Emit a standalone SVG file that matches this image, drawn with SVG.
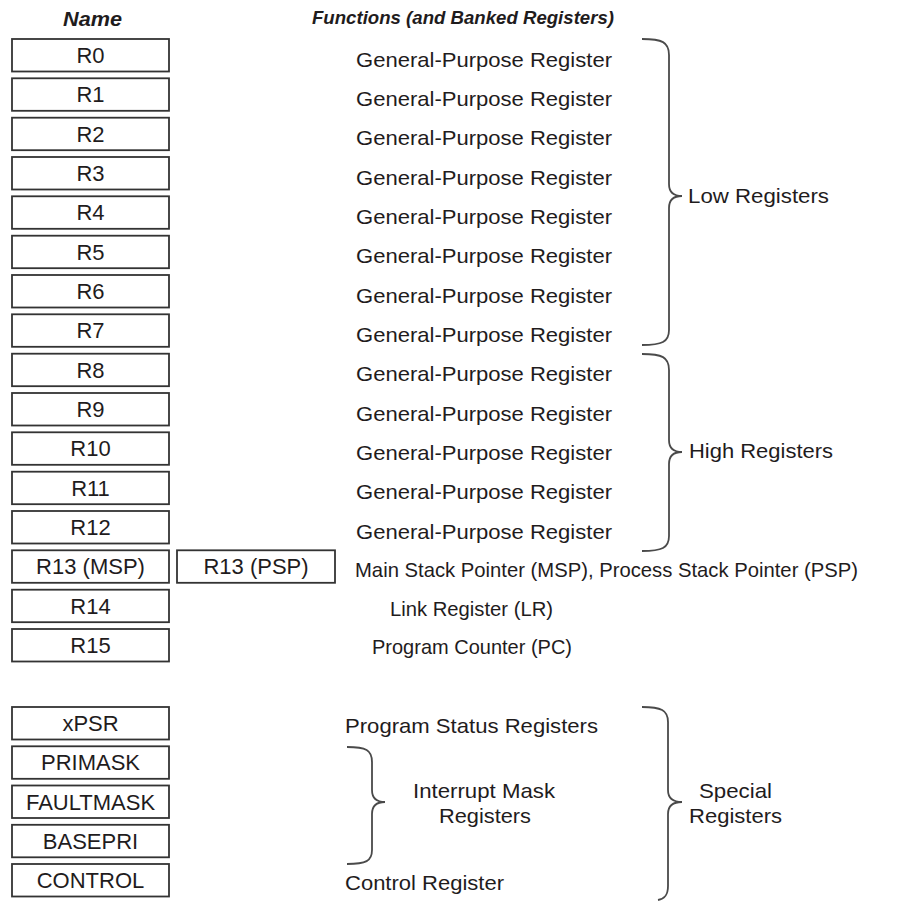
<svg xmlns="http://www.w3.org/2000/svg" width="909" height="901" viewBox="0 0 909 901">
<style>
.bx{fill:#fff;stroke:#333;stroke-width:1.8}
.bl{font-family:"Liberation Sans",Arial,sans-serif;font-size:22px;fill:#1f1c1d;text-anchor:middle}
.ft{font-family:"Liberation Sans",Arial,sans-serif;font-size:21px;fill:#1f1c1d}
.gp{font-family:"Liberation Sans",Arial,sans-serif;font-size:21px;fill:#1f1c1d;text-anchor:middle}
.hd{font-family:"Liberation Sans",Arial,sans-serif;font-weight:bold;font-style:italic;font-size:19px;fill:#1f1c1d;text-anchor:middle}
.br{fill:none;stroke:#4a4a4a;stroke-width:1.8}
</style>
<rect width="909" height="901" fill="#fff"/>
<text class="hd" x="92.5" y="26" style="font-size:20px" textLength="59" lengthAdjust="spacingAndGlyphs">Name</text>
<text class="hd" x="463" y="24" textLength="302" lengthAdjust="spacingAndGlyphs">Functions (and Banked Registers)</text>

<g id="R0"><rect class="bx" x="12" y="39" width="157" height="32.5"/><text class="bl" x="90.5" y="63">R0</text><text class="gp" x="484" y="66.5" textLength="256" lengthAdjust="spacingAndGlyphs">General-Purpose Register</text></g>
<g id="R1"><rect class="bx" x="12" y="78.3" width="157" height="32.5"/><text class="bl" x="90.5" y="102.3">R1</text><text class="gp" x="484" y="105.8" textLength="256" lengthAdjust="spacingAndGlyphs">General-Purpose Register</text></g>
<g id="R2"><rect class="bx" x="12" y="117.7" width="157" height="32.5"/><text class="bl" x="90.5" y="141.7">R2</text><text class="gp" x="484" y="145.2" textLength="256" lengthAdjust="spacingAndGlyphs">General-Purpose Register</text></g>
<g id="R3"><rect class="bx" x="12" y="157" width="157" height="32.5"/><text class="bl" x="90.5" y="181">R3</text><text class="gp" x="484" y="184.5" textLength="256" lengthAdjust="spacingAndGlyphs">General-Purpose Register</text></g>
<g id="R4"><rect class="bx" x="12" y="196.3" width="157" height="32.5"/><text class="bl" x="90.5" y="220.3">R4</text><text class="gp" x="484" y="223.8" textLength="256" lengthAdjust="spacingAndGlyphs">General-Purpose Register</text></g>
<g id="R5"><rect class="bx" x="12" y="235.7" width="157" height="32.5"/><text class="bl" x="90.5" y="259.7">R5</text><text class="gp" x="484" y="263.2" textLength="256" lengthAdjust="spacingAndGlyphs">General-Purpose Register</text></g>
<g id="R6"><rect class="bx" x="12" y="275" width="157" height="32.5"/><text class="bl" x="90.5" y="299">R6</text><text class="gp" x="484" y="302.5" textLength="256" lengthAdjust="spacingAndGlyphs">General-Purpose Register</text></g>
<g id="R7"><rect class="bx" x="12" y="314.3" width="157" height="32.5"/><text class="bl" x="90.5" y="338.3">R7</text><text class="gp" x="484" y="341.8" textLength="256" lengthAdjust="spacingAndGlyphs">General-Purpose Register</text></g>
<g id="R8"><rect class="bx" x="12" y="353.7" width="157" height="32.5"/><text class="bl" x="90.5" y="377.7">R8</text><text class="gp" x="484" y="381.2" textLength="256" lengthAdjust="spacingAndGlyphs">General-Purpose Register</text></g>
<g id="R9"><rect class="bx" x="12" y="393" width="157" height="32.5"/><text class="bl" x="90.5" y="417">R9</text><text class="gp" x="484" y="420.5" textLength="256" lengthAdjust="spacingAndGlyphs">General-Purpose Register</text></g>
<g id="R10"><rect class="bx" x="12" y="432.3" width="157" height="32.5"/><text class="bl" x="90.5" y="456.3">R10</text><text class="gp" x="484" y="459.8" textLength="256" lengthAdjust="spacingAndGlyphs">General-Purpose Register</text></g>
<g id="R11"><rect class="bx" x="12" y="471.7" width="157" height="32.5"/><text class="bl" x="90.5" y="495.7">R11</text><text class="gp" x="484" y="499.2" textLength="256" lengthAdjust="spacingAndGlyphs">General-Purpose Register</text></g>
<g id="R12"><rect class="bx" x="12" y="511" width="157" height="32.5"/><text class="bl" x="90.5" y="535">R12</text><text class="gp" x="484" y="538.5" textLength="256" lengthAdjust="spacingAndGlyphs">General-Purpose Register</text></g>
<g id="R13"><rect class="bx" x="12" y="550.3" width="157" height="32.5"/><text class="bl" x="90.5" y="574.3">R13 (MSP)</text>
<rect class="bx" x="177" y="550.3" width="158" height="32.5"/><text class="bl" x="256" y="574.3">R13 (PSP)</text>
<text class="ft" x="355" y="576.5" textLength="503" lengthAdjust="spacingAndGlyphs">Main Stack Pointer (MSP), Process Stack Pointer (PSP)</text></g>
<g id="R14"><rect class="bx" x="12" y="589.7" width="157" height="32.5"/><text class="bl" x="90.5" y="613.7">R14</text><text class="ft" x="390" y="615.5" textLength="163" lengthAdjust="spacingAndGlyphs">Link Register (LR)</text></g>
<g id="R15"><rect class="bx" x="12" y="629" width="157" height="32.5"/><text class="bl" x="90.5" y="653">R15</text><text class="ft" x="372" y="654" textLength="200" lengthAdjust="spacingAndGlyphs">Program Counter (PC)</text></g>

<g id="xPSR"><rect class="bx" x="12" y="707" width="157" height="32.5"/><text class="bl" x="90.5" y="731">xPSR</text></g>
<g id="PRIMASK"><rect class="bx" x="12" y="746.3" width="157" height="32.5"/><text class="bl" x="90.5" y="770.3">PRIMASK</text></g>
<g id="FAULTMASK"><rect class="bx" x="12" y="785.5" width="157" height="32.5"/><text class="bl" x="90.5" y="809.5">FAULTMASK</text></g>
<g id="BASEPRI"><rect class="bx" x="12" y="824.8" width="157" height="32.5"/><text class="bl" x="90.5" y="848.8">BASEPRI</text></g>
<g id="CONTROL"><rect class="bx" x="12" y="864" width="157" height="32.5"/><text class="bl" x="90.5" y="888">CONTROL</text></g>

<g id="labels">
<text class="ft" x="345" y="733" textLength="253" lengthAdjust="spacingAndGlyphs">Program Status Registers</text>
<text class="ft" x="345" y="890" textLength="159" lengthAdjust="spacingAndGlyphs">Control Register</text>
<text class="ft" x="688" y="203" textLength="141" lengthAdjust="spacingAndGlyphs">Low Registers</text>
<text class="ft" x="689" y="458" textLength="144" lengthAdjust="spacingAndGlyphs">High Registers</text>
<text class="gp" x="484" y="798" textLength="142" lengthAdjust="spacingAndGlyphs">Interrupt Mask</text>
<text class="gp" x="485" y="823" textLength="92" lengthAdjust="spacingAndGlyphs">Registers</text>
<text class="gp" x="735.5" y="798" textLength="73" lengthAdjust="spacingAndGlyphs">Special</text>
<text class="gp" x="735.5" y="823" textLength="93" lengthAdjust="spacingAndGlyphs">Registers</text>
</g>

<g id="connectors">
<path class="br" d="M642,39 C662,39 669,42 669,55 L669,184 C669,192 674,196 682,196 C674,196 669,200 669,208 L669,330 C669,342 662,345 642,345"/>
<path class="br" d="M642,354 C662,354 669,357 669,370 L669,440 C669,448 674,452 682,452 C674,452 669,456 669,464 L669,536 C669,548 662,551 642,551"/>
<path class="br" d="M347,747 C366,747 372,750 372,762 L372,790 C372,798 377,802 385,802 C377,802 372,806 372,814 L372,850 C372,861 366,864 347,864"/>
<path class="br" d="M642,707 C661,707 668,710 668,722 L668,790 C668,798 673,802 682,802 C673,802 668,806 668,814 L668,886 C668,896 664,899 658,900"/>
</g>
</svg>
